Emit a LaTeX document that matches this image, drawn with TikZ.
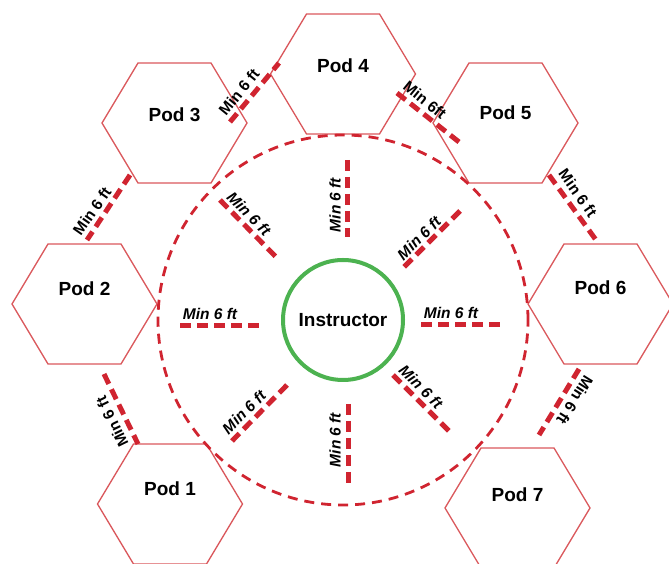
\documentclass[tikz,border=0pt]{standalone}
\usepackage{fontspec}
\setmainfont{Liberation Sans}
\usetikzlibrary{calc}
\definecolor{hexred}{RGB}{218,88,92}
\definecolor{dashred}{RGB}{208,36,48}
\definecolor{instgreen}{RGB}{76,178,80}
\tikzset{
  hexline/.style={draw=hexred, line width=1.3pt, line join=miter},
  podlabel/.style={font=\fontsize{19}{22}\selectfont\bfseries, inner sep=0pt},
  gapline/.style={draw=dashred, line width=5pt, dash pattern=on 11pt off 6pt},
  ringline/.style={draw=dashred, line width=2.8pt, dash pattern=on 10pt off 7pt},
  innerlabel/.style={font=\fontsize{15.5}{18}\selectfont\bfseries\itshape, inner sep=0pt},
  outerlabel/.style={font=\fontsize{15.5}{18}\selectfont\bfseries, inner sep=0pt},
}
\newcommand{\hexat}[1]{\draw[hexline] (#1) +(72.5,0) -- +(36.5,60) -- +(-36.5,60) -- +(-72.5,0) -- +(-36.5,-60) -- +(36.5,-60) -- cycle;}
\begin{document}
\begin{tikzpicture}[x=1pt,y=1pt]
\useasboundingbox (0,0) rectangle (669,564);
\clip (0,0) rectangle (669,564);
% pod centres
\coordinate (c1) at (170,60);
\coordinate (c2) at (84.5,260);
\coordinate (c3) at (174.5,441);
\coordinate (c4) at (343,490);
\coordinate (c5) at (505.5,441);
\coordinate (c6) at (600.5,260);
\coordinate (c7) at (517.5,56);
\foreach \c in {c1,c2,c3,c4,c5,c6,c7} {\hexat{\c}}
\node[podlabel] (p1) at (170,75) {Pod 1};
\node[podlabel] (p2) at (84.5,275) {Pod 2};
\node[podlabel] (p3) at (174.5,449) {Pod 3};
\node[podlabel] (p4) at (343,498) {Pod 4};
\node[podlabel] (p5) at (505.5,451) {Pod 5};
\node[podlabel] (p6) at (600.5,276) {Pod 6};
\node[podlabel] (p7) at (517.5,69) {Pod 7};
% ring and instructor
\coordinate (ic) at (343,244);
\draw[ringline] (ic) circle[radius=185];
\node[draw=instgreen, line width=4pt, circle, minimum size=120pt, inner sep=0pt,
  font=\fontsize{19}{22}\selectfont\bfseries] (inst) at (ic) {Instructor};
% inner radial spacing lines
\coordinate (tA) at (347,404); \coordinate (tB) at (347,327);
\coordinate (bA) at (348,160); \coordinate (bB) at (348,81);
\coordinate (lA) at (180,238); \coordinate (lB) at (259,238);
\coordinate (rA) at (421,239); \coordinate (rB) at (500,239);
\coordinate (ulA) at (220,364); \coordinate (ulB) at (276,307);
\coordinate (urA) at (460,353); \coordinate (urB) at (404,297);
\coordinate (llA) at (287,179); \coordinate (llB) at (232,123);
\coordinate (lrA) at (393,189); \coordinate (lrB) at (449,133);
\foreach \a/\b in {tA/tB,bA/bB,lA/lB,rA/rB,ulA/ulB,urA/urB,llA/llB,lrA/lrB}
  {\draw[gapline] (\a) -- (\b);}
\node[innerlabel, rotate=90] (lt) at (335,359) {Min 6 ft};
\node[innerlabel, rotate=90] (lb) at (335,124) {Min 6 ft};
\node[innerlabel] (ll) at (210,250) {Min 6 ft};
\node[innerlabel] (lr) at (451,251) {Min 6 ft};
\node[innerlabel, rotate=-45] (lul) at (249,350) {Min 6 ft};
\node[innerlabel, rotate=45] (lur) at (419,326) {Min 6 ft};
\node[innerlabel, rotate=45] (lll) at (244,152) {Min 6 ft};
\node[innerlabel, rotate=-45] (llr) at (421,177) {Min 6 ft};
% outer pod-to-pod spacing lines
\coordinate (o34a) at (230,442); \coordinate (o34b) at (279,501);
\coordinate (o45a) at (397,471); \coordinate (o45b) at (459,422);
\coordinate (o32a) at (130,389); \coordinate (o32b) at (87,324);
\coordinate (o56a) at (549,389); \coordinate (o56b) at (596,324);
\coordinate (o21a) at (104,190); \coordinate (o21b) at (138,120);
\coordinate (o67a) at (579,195); \coordinate (o67b) at (539,129);
\foreach \a/\b in {o34a/o34b,o45a/o45b,o32a/o32b,o56a/o56b,o21a/o21b,o67a/o67b}
  {\draw[gapline] (\a) -- (\b);}
\node[outerlabel, rotate=51] (l34) at (239,472) {Min 6 ft};
\node[outerlabel, rotate=-39] (l45) at (425,464) {Min 6ft};
\node[outerlabel, rotate=55] (l32) at (92,353) {Min 6 ft};
\node[outerlabel, rotate=-55] (l56) at (578,371) {Min 6 ft};
\node[outerlabel, rotate=116] (l21) at (112,142) {Min 6 ft};
\node[outerlabel, rotate=-122] (l67) at (575,164) {Min 6 ft};
\end{tikzpicture}
\end{document}
